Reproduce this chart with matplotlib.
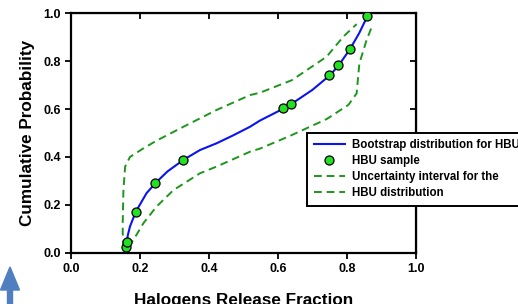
import numpy as np
import matplotlib
matplotlib.use('Agg')
import matplotlib.pyplot as plt
from matplotlib.patches import FancyArrow

plt.rcParams['font.family'] = ['Liberation Sans', 'DejaVu Sans']
plt.rcParams['font.weight'] = 'bold'

# HBU sample points
sample_x = [0.159, 0.162, 0.188, 0.245, 0.325, 0.615, 0.639, 0.749, 0.774, 0.808, 0.859]
sample_y = [0.024, 0.045, 0.171, 0.292, 0.388, 0.605, 0.621, 0.740, 0.783, 0.849, 0.986]

# bootstrap distribution
boot_x = [0.158, 0.159, 0.161, 0.165, 0.171, 0.188, 0.219, 0.246, 0.280, 0.326, 0.374,
          0.422, 0.470, 0.519, 0.548, 0.600, 0.615, 0.640, 0.700, 0.750, 0.775, 0.808,
          0.835, 0.859]
boot_y = [0.000, 0.013, 0.040, 0.075, 0.110, 0.172, 0.249, 0.293, 0.340, 0.388, 0.429,
          0.457, 0.490, 0.526, 0.552, 0.590, 0.603, 0.622, 0.680, 0.740, 0.780, 0.848,
          0.915, 0.986]

# uncertainty interval, upper and lower bound
upper_x = [0.153, 0.150, 0.150, 0.152, 0.157, 0.171, 0.210, 0.248, 0.326, 0.422, 0.519,
           0.548, 0.640, 0.741, 0.789, 0.828]
upper_y = [0.020, 0.080, 0.124, 0.260, 0.360, 0.400, 0.436, 0.468, 0.526, 0.596, 0.658,
           0.668, 0.720, 0.818, 0.901, 0.954]
lower_x = [0.166, 0.181, 0.210, 0.248, 0.297, 0.374, 0.422, 0.519, 0.548, 0.635, 0.741,
           0.804, 0.828, 0.836, 0.857, 0.874]
lower_y = [0.026, 0.054, 0.124, 0.193, 0.262, 0.332, 0.360, 0.422, 0.435, 0.488, 0.558,
           0.617, 0.665, 0.790, 0.888, 0.950]

ticks = [0.0, 0.2, 0.4, 0.6, 0.8, 1.0]
tick_labels = ['0.0', '0.2', '0.4', '0.6', '0.8', '1.0']

fig = plt.figure(figsize=(5.18, 3.04), dpi=100)
ax = fig.add_axes([0.137, 0.168, 0.666, 0.789])

green = '#1e961e'
ax.plot(boot_x, boot_y, color='#0a14f0', lw=1.5, label='Bootstrap distribution for HBU', zorder=3)
ax.plot(sample_x, sample_y, 'o', color='#22e022', mec='black', mew=0.9, ms=6.5,
        label='HBU sample', zorder=4)
ax.plot(upper_x, upper_y, '--', color=green, lw=1.4, dashes=(4, 2.5),
        label='Uncertainty interval for the', zorder=2)
ax.plot(lower_x, lower_y, '--', color=green, lw=1.4, dashes=(4, 2.5),
        label='HBU distribution', zorder=2)

ax.set_xlim(0, 1)
ax.set_ylim(0, 1)
ax.set_xticks(ticks)
ax.set_xticklabels(tick_labels)
ax.set_yticks(ticks)
ax.set_yticklabels(tick_labels)
ax.tick_params(direction='out', length=4, width=1.3, labelsize=9, pad=3)
for s in ax.spines.values():
    s.set_linewidth(1.6)

# mirrored ticks pointing inward on top and right
top = ax.secondary_xaxis('top')
top.set_xticks(ticks)
top.tick_params(direction='in', length=4, width=1.3, labeltop=False)
right = ax.secondary_yaxis('right')
right.set_yticks(ticks)
right.tick_params(direction='in', length=4, width=1.3, labelright=False)

ax.set_xlabel('Halogens Release Fraction', fontsize=12.3, fontweight='bold', labelpad=13)
ax.set_ylabel('Cumulative Probability', fontsize=12.3, fontweight='bold', labelpad=6)

leg = ax.legend(loc='upper left', bbox_to_anchor=(0.593, 0.5625),
                bbox_transform=fig.transFigure, fontsize=8.3, frameon=True,
                fancybox=False, framealpha=1, edgecolor='black', borderpad=0.55,
                handlelength=2.7, handletextpad=0.6, labelspacing=0.35,
                borderaxespad=0)
leg.get_frame().set_linewidth(1.4)
for t in leg.get_texts():
    t.set_fontweight('bold')

# blue arrow peeking in from the bottom left corner
arrow = FancyArrow(0.10, -0.05, 0, 0.42, width=0.05, head_width=0.19,
                   head_length=0.23, length_includes_head=True,
                   color='#4f7fbf', transform=fig.dpi_scale_trans)
fig.patches.append(arrow)

fig.savefig('out.png', dpi=100)
